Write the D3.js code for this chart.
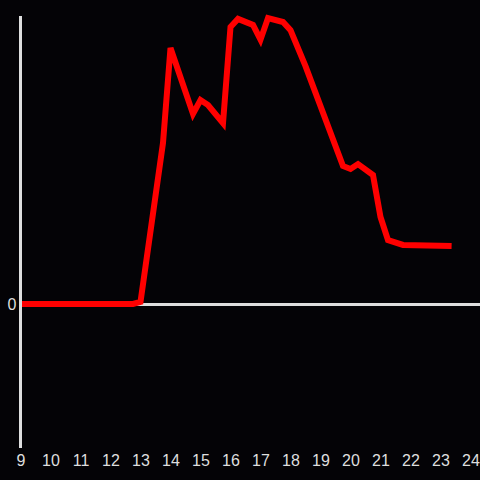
<!DOCTYPE html>
<html>
<head>
<meta charset="utf-8">
<script src="https://cdn.jsdelivr.net/npm/d3@7"></script>
<style>
  html, body { margin: 0; padding: 0; background: #040306; }
  svg { display: block; }
</style>
</head>
<body>
<svg id="chart" width="480" height="480"></svg>
<script>
// data (hour of day, value)
const hours = [9, 12.75, 13.0, 13.75, 14.0, 14.75, 15.0, 15.25, 15.75, 16.0, 16.25, 16.75, 17.0, 17.25, 17.75, 18.0, 18.5, 19.75, 20.0, 20.25, 20.75, 21.0, 21.25, 21.75, 23.37];
const values = [0, 0, 0.7, 55.9, 88.9, 66, 70.8, 69.1, 62.8, 96.2, 99, 96.9, 91.8, 99.3, 97.9, 95.1, 82.6, 47.9, 46.9, 48.6, 44.8, 30.2, 22.2, 20.5, 20.1];
const xTicks = [9, 10, 11, 12, 13, 14, 15, 16, 17, 18, 19, 20, 21, 22, 23, 24];
const yTicks = [0];

const svg = d3.select("#chart");
const axisColor = "#dedede";

const x = d3.scaleLinear().domain([9, 24]).range([20.5, 470.5]);
const y = d3.scaleLinear().domain([-50, 100]).range([448, 16]);

const data = hours.map((h, i) => ({h: h, v: values[i]}));

// zero line
svg.append("line")
   .attr("x1", x(9)).attr("x2", 480)
   .attr("y1", y(0) + 0.5).attr("y2", y(0) + 0.5)
   .attr("stroke", axisColor)
   .attr("stroke-width", 3);

// the series
const line = d3.line()
               .x(d => x(d.h))
               .y(d => y(d.v));

svg.append("path")
   .datum(data)
   .attr("fill", "none")
   .attr("stroke", "#ff0000")
   .attr("stroke-width", 6)
   .attr("d", line);

// vertical axis line
svg.append("line")
   .attr("x1", x(9)).attr("x2", x(9))
   .attr("y1", 16).attr("y2", 448)
   .attr("stroke", axisColor)
   .attr("stroke-width", 3);

// x tick labels
const gx = svg.append("g")
   .attr("transform", "translate(0,448)")
   .call(d3.axisBottom(x).tickValues(xTicks).tickSize(0).tickPadding(7).tickFormat(d3.format("d")));
gx.select(".domain").remove();
gx.selectAll("text")
  .attr("fill", axisColor)
  .style("font-family", "'Liberation Sans', Arial, sans-serif")
  .style("font-size", "16px");

// y tick label
const gy = svg.append("g")
   .attr("transform", `translate(${x(9)},0)`)
   .call(d3.axisLeft(y).tickValues(yTicks).tickSize(0).tickPadding(4));
gy.select(".domain").remove();
gy.selectAll("text")
  .attr("fill", axisColor)
  .style("font-family", "'Liberation Sans', Arial, sans-serif")
  .style("font-size", "16px");
</script>
</body>
</html>
